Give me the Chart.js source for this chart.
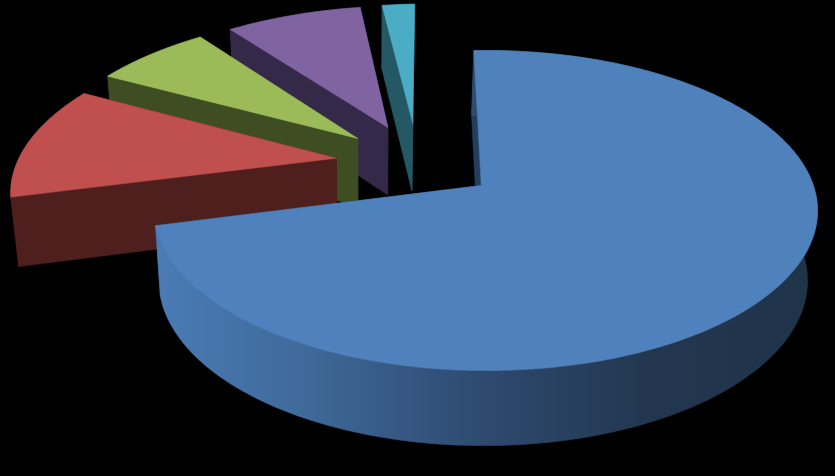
<!DOCTYPE html>
<html>
<head>
<meta charset="utf-8">
<style>html,body{margin:0;padding:0;background:#000}canvas{display:block}</style>
<script src="https://cdn.jsdelivr.net/npm/chart.js@4/dist/chart.umd.js"></script>
</head>
<body>
<canvas id="c" width="835" height="476"></canvas>
<script>
const categories = ["A", "B", "C", "D", "E"];
const values = [71.39, 11.81, 6.81, 8.05, 1.94];
const explode = [0.25, 0.26, 0.26, 0.266, 0.275];
const topColors = ["#4F81BD", "#C0504D", "#9BBB59", "#8064A2", "#4BACC6"];
const wallColors = ["#223F5E", "#4F1F1E", "#3F4D23", "#35294A", "#235864"];
const rimStops = [[160,"#4A7BB5"],[300,"#3F6A9A"],[480,"#2E4A70"],[650,"#22364F"],[810,"#1F3349"]];

const O = {x:482, y:185}, T = {u:-0.202, v:-0.147};
const A = 327.5, B = 156, K = 0.156, J = 0.0136;
const perspectiveStretch = [1, 1.022, 1.025, 1.012, 1];
function project(u, v){
  const uu = u + T.u, vv = v + T.v;
  const d = 1 - K*vv - J*uu;
  return {x: O.x + A*uu/d, y: O.y + B*vv/d};
}
function lower(p){
  return {x: p.x + (370 - p.x)*0.0224, y: p.y + 67 + (p.y - 120)*0.032};
}
function poly(ctx, pts, fill){
  ctx.beginPath();
  pts.forEach((p,i)=> i ? ctx.lineTo(p.x,p.y) : ctx.moveTo(p.x,p.y));
  ctx.closePath();
  ctx.fillStyle = fill; ctx.fill();
  ctx.strokeStyle = fill; ctx.lineWidth = 0.6; ctx.stroke();
}
const pie3d = {
  id: "pie3d",
  beforeDatasetDraw(chart, args){
    const ctx = chart.ctx, arcs = args.meta.data;
    const x0 = rimStops[0][0], x1 = rimStops[rimStops.length-1][0];
    const rim = ctx.createLinearGradient(x0,0,x1,0);
    rimStops.forEach(s=>rim.addColorStop((s[0]-x0)/(x1-x0), s[1]));
    const order = [4,3,2,1,0];
    ctx.save();
    order.forEach(i=>{
      const el = arcs[i];
      const a0 = el.startAngle + Math.PI/2, a1 = el.endAngle + Math.PI/2;
      const mid = (a0+a1)/2, e = explode[i], r = perspectiveStretch[i];
      const cu = e*Math.sin(mid), cv = -e*Math.cos(mid);
      const apex = project(cu, cv);
      const edge = [];
      const n = Math.max(6, Math.round((a1-a0)*60));
      for(let j=0;j<=n;j++){
        const t = a0 + (a1-a0)*j/n;
        edge.push(project(cu+r*Math.sin(t), cv-r*Math.cos(t)));
      }
      const first = edge[0], last = edge[n];
      poly(ctx,[apex,first,lower(first),lower(apex)],wallColors[i]);
      poly(ctx,[apex,last,lower(last),lower(apex)],wallColors[i]);
      poly(ctx,edge.concat(edge.map(lower).reverse()), i===0 ? rim : wallColors[i]);
      poly(ctx,[apex].concat(edge),topColors[i]);
    });
    ctx.restore();
    return false;
  }
};
new Chart(document.getElementById("c"),{
  type:"pie",
  data:{labels:categories,datasets:[{data:values,backgroundColor:topColors,borderWidth:0}]},
  options:{
    responsive:false,animation:false,rotation:-1.5,
    plugins:{legend:{display:false},tooltip:{enabled:false},title:{display:false}}
  },
  plugins:[pie3d]
});
</script>
</body>
</html>
